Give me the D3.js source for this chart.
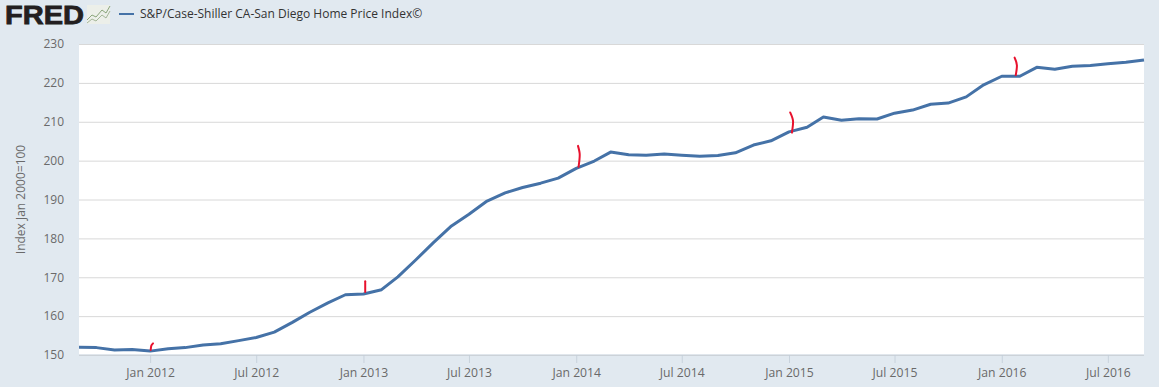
<!DOCTYPE html>
<html>
<head>
<meta charset="utf-8">
<script src="https://cdnjs.cloudflare.com/ajax/libs/d3/7.8.5/d3.min.js"></script>
<style>
   html, body { margin: 0; padding: 0; background: #e1e9f0; overflow: hidden; }
   svg { display: block; }
   text { font-family: "Open Sans", sans-serif; }
   .domain { display: none; }
</style>
</head>
<body>
<div id="chart"></div>
<script>

// SERIES NAME AND AXIS LABELS
var seriesName = 'S&P/Case-Shiller CA-San Diego Home Price Index©';
var yTitle = 'Index Jan 2000=100';
var yTicks = [150, 160, 170, 180, 190, 200, 210, 220, 230];
var xTicks = ['2012-01', '2012-07', '2013-01', '2013-07', '2014-01', '2014-07', '2015-01', '2015-07', '2016-01', '2016-07'];

// MONTHS, SEP 2011 TO SEP 2016
var firstMonth = '2011-09';
var lastMonth = '2016-09';

// INDEX VALUE FOR EACH MONTH
var values = [
   152.0, 151.9, 151.3, 151.4, 151.0, 151.6, 151.9, 152.6, 152.9, 153.7, 154.5, 155.9,
   158.4, 161.0, 163.4, 165.5, 165.7, 166.8, 170.1, 174.5, 178.9, 183.2, 186.2, 189.6,
   191.7, 193.1, 194.2, 195.5, 198.0, 199.9, 202.2, 201.5, 201.4, 201.7, 201.4, 201.1,
   201.3, 202.0, 204.0, 205.1, 207.4, 208.6, 211.2, 210.4, 210.8, 210.7, 212.2, 213.0,
   214.5, 214.8, 216.4, 219.5, 221.7, 221.7, 224.0, 223.5, 224.3, 224.5, 224.9, 225.3, 225.9
];

// RED HAND DRAWN MARKS, AS [MONTH, INDEX VALUE] STROKES
var redMarks = [
   [['2012-01-02', 151.3], ['2012-01-03', 152.4], ['2012-01-06', 153.0]],
   [['2013-01-04', 166.2], ['2013-01-04', 169.0]],
   [['2014-01-05', 198.4], ['2014-01-07', 201.5], ['2014-01-04', 203.8]],
   [['2015-01-06', 207.2], ['2015-01-08', 210.0], ['2015-01-03', 212.4]],
   [['2016-01-25', 222.0], ['2016-01-27', 224.5], ['2016-01-23', 226.5]]
];

// ICON STROKES INSIDE THE LOGO
var iconLines = [
   { color: '#7f9c6e', points: [[0, 15], [5, 10], [9, 12], [15, 5], [19, 8], [23, 1]] },
   { color: '#9cb08e', points: [[0, 18], [5, 14], [9, 16], [15, 10], [19, 13], [23, 6]] }
];

// RENDER DATA TO A CHART
function chart() {

   var width = 1159, height = 387;
   var plot = { left: 79, right: 1144, top: 44, bottom: 355 };
   var parseMonth = d3.utcParse('%Y-%m');
   var parseDay = d3.utcParse('%Y-%m-%d');
   var months = d3.utcMonth.range(parseMonth(firstMonth), d3.utcMonth.offset(parseMonth(lastMonth), 1));

   // SCALES
   var x = d3.scaleUtc()
      .domain([parseMonth(firstMonth), parseMonth(lastMonth)])
      .range([plot.left, plot.right]);
   var y = d3.scaleLinear()
      .domain([150, 230])
      .range([plot.bottom, plot.top]);

   // GENERATE GRAPH CANVAS
   var canvas = d3.select('#chart').append('svg')
      .attr('width', width)
      .attr('height', height);

   // WHITE PLOT AREA
   canvas.append('rect')
      .attr('x', plot.left)
      .attr('y', plot.top)
      .attr('width', plot.right - plot.left)
      .attr('height', plot.bottom - plot.top)
      .attr('fill', '#ffffff');

   // Y AXIS WITH GRID LINES
   var yAxis = canvas.append('g')
      .attr('transform', 'translate(' + plot.left + ',0)')
      .call(d3.axisLeft(y).tickValues(yTicks).tickSize(0).tickPadding(15));
   yAxis.selectAll('.tick line')
      .attr('x2', plot.right - plot.left)
      .attr('stroke', '#d8d8d8')
      .attr('stroke-width', 1);
   yAxis.selectAll('text')
      .attr('fill', '#6a6a6a')
      .style('font-size', '12px');

   // X AXIS
   var xAxis = canvas.append('g')
      .attr('transform', 'translate(0,' + plot.bottom + ')')
      .call(d3.axisBottom(x)
         .tickValues(xTicks.map(parseMonth))
         .tickSize(8)
         .tickPadding(5)
         .tickFormat(d3.utcFormat('%b %Y')));
   xAxis.selectAll('.tick line')
      .attr('stroke', '#c8d2dc');
   xAxis.selectAll('text')
      .attr('fill', '#6a6a6a')
      .style('font-size', '12.2px');

   // X AXIS BASE LINE
   canvas.append('line')
      .attr('x1', plot.left)
      .attr('x2', plot.right)
      .attr('y1', y(150))
      .attr('y2', y(150))
      .attr('stroke', '#c0ccd8');

   // Y AXIS TITLE
   canvas.append('text')
      .attr('transform', 'translate(25,' + y(190) + ') rotate(-90)')
      .attr('text-anchor', 'middle')
      .attr('fill', '#6a6a6a')
      .style('font-size', '12px')
      .text(yTitle);

   // ADD PATH
   var pathify = d3.line()
      .x((data, i) => { return x(months[i]) })
      .y((data) => { return y(data) });

   canvas.append('path')
      .attr('d', pathify(values))
      .attr('fill', 'none')
      .attr('stroke', '#4572a7')
      .attr('stroke-width', 3)
      .attr('stroke-linejoin', 'round');

   // RED MARKS
   var scribble = d3.line()
      .x((data) => { return x(parseDay(data[0])) })
      .y((data) => { return y(data[1]) })
      .curve(d3.curveMonotoneY);
   redMarks.forEach(mark => {
      canvas.append('path')
         .attr('d', scribble(mark))
         .attr('fill', 'none')
         .attr('stroke', '#e8112d')
         .attr('stroke-width', 2)
         .attr('stroke-linecap', 'round');
   });

   // LOGO TEXT
   canvas.append('text')
      .attr('x', 5)
      .attr('y', 24)
      .attr('fill', '#231f20')
      .attr('stroke', '#231f20')
      .attr('stroke-width', 0.8)
      .style('font-family', '"Liberation Sans", sans-serif')
      .style('font-weight', 700)
      .style('font-size', '26px')
      .attr('textLength', 79)
      .attr('lengthAdjust', 'spacingAndGlyphs')
      .text('FRED');

   // LOGO ICON
   var icon = canvas.append('g')
      .attr('transform', 'translate(87,5)');
   icon.append('rect')
      .attr('width', 23)
      .attr('height', 19)
      .attr('fill', '#ecefe9');
   iconLines.forEach(item => {
      icon.append('path')
         .attr('d', d3.line()(item.points))
         .attr('fill', 'none')
         .attr('stroke', item.color)
         .attr('stroke-width', 0.9);
   });

   // LEGEND
   canvas.append('line')
      .attr('x1', 119)
      .attr('x2', 134)
      .attr('y1', 14)
      .attr('y2', 14)
      .attr('stroke', '#4572a7')
      .attr('stroke-width', 2);
   canvas.append('text')
      .attr('x', 140)
      .attr('y', 18)
      .attr('fill', '#333333')
      .style('font-size', '12px')
      .style('font-weight', 500)
      .text(seriesName);
}

chart();
</script>
</body>
</html>
